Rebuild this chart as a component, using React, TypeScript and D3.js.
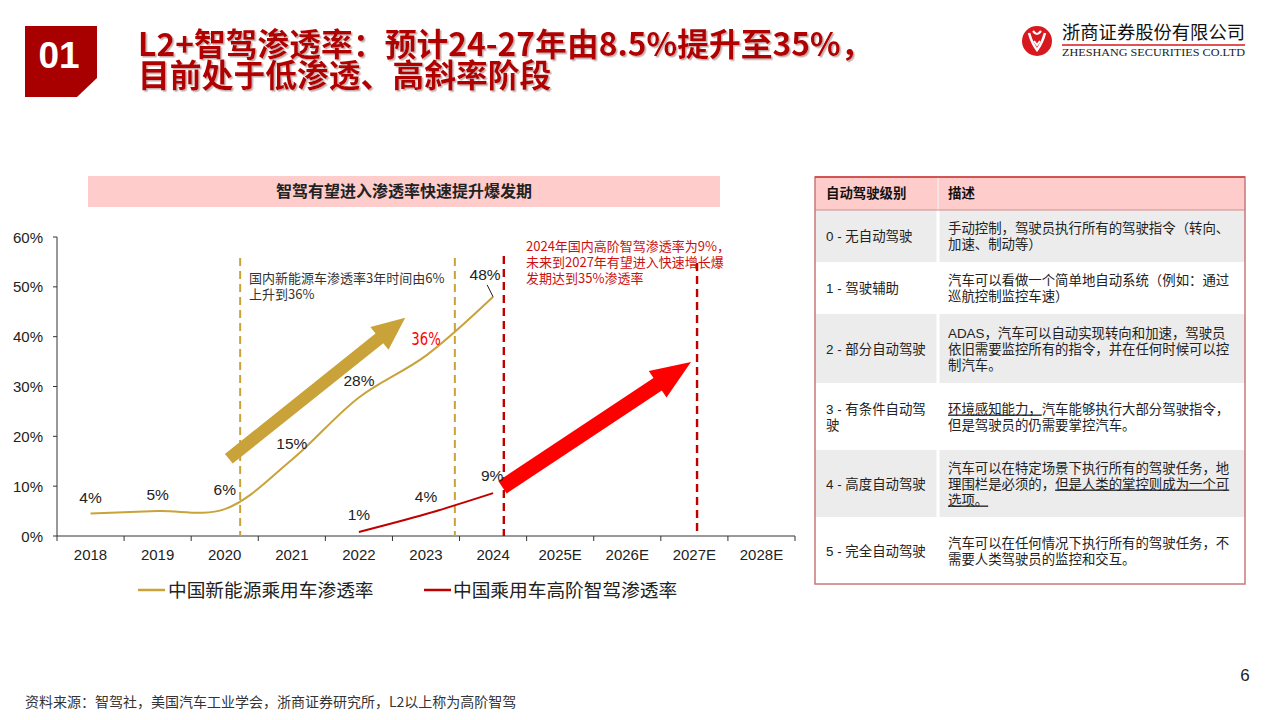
import React from 'react';
import * as d3 from 'd3';

// ---------- DATA ----------
const years = ["2018", "2019", "2020", "2021", "2022", "2023", "2024", "2025E", "2026E", "2027E", "2028E"];
const nevYears = ["2018", "2019", "2020", "2021", "2022", "2023", "2024"];
const nevRate = [4.5, 5.0, 5.4, 15.3, 27.8, 36.2, 48];
const nevLabels = ["4%", "5%", "6%", "15%", "28%", "36%", "48%"];
const adasYears = ["2022", "2023", "2024"];
const adasRate = [0.8, 4.4, 8.6];
const adasLabels = ["1%", "4%", "9%"];
const yTicks = [0, 10, 20, 30, 40, 50, 60];

const seriesNames = ["中国新能源乘用车渗透率", "中国乘用车高阶智驾渗透率"];
const chartTitle = "智驾有望进入渗透率快速提升爆发期";
const pageTitle = ["L2+智驾渗透率：预计24-27年由8.5%提升至35%，", "目前处于低渗透、高斜率阶段"];
const noteNev = ["国内新能源车渗透率3年时间由6%", "上升到36%"];
const noteAdas = ["2024年国内高阶智驾渗透率为9%，", "未来到2027年有望进入快速增长爆", "发期达到35%渗透率"];

// reference lines: [year, fraction inside band, top value, kind]
const refLines: [string, number, number, string][] = [
  ["2020", 0.73, 55.8, "gold"],
  ["2023", 0.93, 55.8, "gold"],
  ["2024", 0.66, 56.2, "red"],
  ["2027E", 0.54, 54.8, "red"],
];
// arrows: [fromYear, fromFrac, fromVal, toYear, toFrac, toVal]
const goldArrow: [string, number, number, string, number, number] = ["2020", 0.56, 15.5, "2023", 0.19, 43.8];
const redArrow: [string, number, number, string, number, number] = ["2024", 0.64, 9.8, "2027E", 0.45, 34.9];

const tableHeader = ["自动驾驶级别", "描述"];
const levelNames = [["0 - 无自动驾驶"], ["1 - 驾驶辅助"], ["2 - 部分自动驾驶"], ["3 - 有条件自动驾", "驶"], ["4 - 高度自动驾驶"], ["5 - 完全自动驾驶"]];
const levelDesc: { t: string; u?: [number, number] }[][] = [
  [{ t: "手动控制，驾驶员执行所有的驾驶指令（转向、" }, { t: "加速、制动等）" }],
  [{ t: "汽车可以看做一个简单地自动系统（例如：通过" }, { t: "巡航控制监控车速）" }],
  [{ t: "ADAS，汽车可以自动实现转向和加速，驾驶员" }, { t: "依旧需要监控所有的指令，并在任何时候可以控" }, { t: "制汽车。" }],
  [{ t: "环境感知能力，汽车能够执行大部分驾驶指令，", u: [0, 7] }, { t: "但是驾驶员的仍需要掌控汽车。" }],
  [{ t: "汽车可以在特定场景下执行所有的驾驶任务，地" }, { t: "理围栏是必须的，但是人类的掌控则成为一个可", u: [8, 21] }, { t: "选项。", u: [0, 3] }],
  [{ t: "汽车可以在任何情况下执行所有的驾驶任务，不" }, { t: "需要人类驾驶员的监控和交互。" }],
];
const rowBounds = [210, 262, 314, 383, 450, 517, 584];

const GOLD = "#c9a23a";
const DARKRED = "#c00000";
const SANS = "'Liberation Sans', Arial, 'Noto Sans CJK SC', sans-serif";
const CJK = "'Noto Sans CJK SC', 'Liberation Sans', sans-serif";

function arrowPath(x1: number, y1: number, x2: number, y2: number, shaft: number, headW: number, headL: number) {
  const dx = x2 - x1, dy = y2 - y1;
  const len = Math.sqrt(dx * dx + dy * dy);
  const ux = dx / len, uy = dy / len;
  const px = -uy, py = ux;
  const bx = x2 - ux * headL, by = y2 - uy * headL;
  const pts = [
    [x1 + px * shaft / 2, y1 + py * shaft / 2],
    [bx + px * shaft / 2, by + py * shaft / 2],
    [bx + px * headW / 2, by + py * headW / 2],
    [x2, y2],
    [bx - px * headW / 2, by - py * headW / 2],
    [bx - px * shaft / 2, by - py * shaft / 2],
    [x1 - px * shaft / 2, y1 - py * shaft / 2],
  ];
  return "M" + pts.map(p => p[0].toFixed(1) + "," + p[1].toFixed(1)).join("L") + "Z";
}

export default function App() {
  const x = d3.scaleBand<string>().domain(years).range([57, 795]);
  const bw = x.bandwidth();
  const cx = (yr: string) => (x(yr) as number) + bw / 2;
  const y = d3.scaleLinear().domain([0, 60]).range([536, 237]);

  const line = d3.line<[string, number]>()
    .x(d => cx(d[0]))
    .y(d => y(d[1]))
    .curve(d3.curveCatmullRom.alpha(0.5));
  const nevPath = line(nevYears.map((yr, i) => [yr, nevRate[i]] as [string, number])) || "";
  const adasPath = line(adasYears.map((yr, i) => [yr, adasRate[i]] as [string, number])) || "";

  const ax = (a: [string, number, number, string, number, number]) => [
    (x(a[0]) as number) + bw * a[1], y(a[2]), (x(a[3]) as number) + bw * a[4], y(a[5])];
  const ga = ax(goldArrow);
  const ra = ax(redArrow);

  const boundaries = years.map(yr => x(yr) as number).concat([795]);

  return (
    <svg width={1280} height={720} style={{ position: 'fixed', left: 0, top: 0, background: '#fff' }}
      xmlns="http://www.w3.org/2000/svg">
      <defs>
        <filter id="tshadow" x="-5%" y="-20%" width="110%" height="150%">
          <feDropShadow dx={1.5} dy={1.5} stdDeviation={0.4} floodColor="#b89a9a" floodOpacity={0.8} />
        </filter>
      </defs>
      <rect x={0} y={0} width={1280} height={720} fill="#fff" />

      {/* Header */}
      <polygon points="25,26 97,26 97,78 77,97 25,97" fill="#a80000" />
      <text x={59} y={68} textAnchor="middle" fontFamily={SANS} fontWeight="bold" fontSize={37} fill="#fff">01</text>
      <text fontFamily={CJK} fontWeight="bold" fontSize={31.8} fill="#b00000" filter="url(#tshadow)">
        {pageTitle.map((t, i) => <tspan key={i} x={138} y={56 + i * 31}>{t}</tspan>)}
      </text>

      {/* Logo */}
      <g transform="translate(1037,41)">
        <circle r={15} fill="#d7191f" />
        <path d="M-8,-8 C-6,-1 -4,4 0,9 C4,4 6,-1 8,-8" fill="none" stroke="#fff" strokeWidth={2.6} />
        <path d="M-4,-10 C-1,-6 1,-6 4,-10" fill="none" stroke="#fff" strokeWidth={2.2} />
        <path d="M-3,0 L0,4 L3,0" fill="none" stroke="#fff" strokeWidth={2} />
      </g>
      <text x={1062} y={39} fontFamily={CJK} fontSize={18} fill="#111" textLength={183} lengthAdjust="spacingAndGlyphs">浙商证券股份有限公司</text>
      <line x1={1062} x2={1245} y1={45} y2={45} stroke="#d7191f" strokeWidth={1.5} />
      <text x={1062} y={56} fontFamily="'Liberation Serif', 'Times New Roman', serif" fontSize={11} fill="#222" textLength={183} lengthAdjust="spacingAndGlyphs">ZHESHANG SECURITIES CO.LTD</text>

      {/* Chart title band */}
      <rect x={88} y={176} width={632} height={31} fill="#ffcccc" />
      <text x={404} y={197} textAnchor="middle" fontFamily={CJK} fontWeight="bold" fontSize={16} fill="#222">{chartTitle}</text>

      {/* Axes */}
      <line x1={57} x2={57} y1={237} y2={536} stroke="#333" strokeWidth={1} />
      {yTicks.map(t => (
        <g key={t}>
          <line x1={53} x2={57} y1={y(t)} y2={y(t)} stroke="#333" />
          <text x={43} y={y(t) + 5.5} textAnchor="end" fontFamily={SANS} fontSize={15} fill="#222">{t}%</text>
        </g>
      ))}
      <line x1={57} x2={795} y1={536} y2={536} stroke="#333" strokeWidth={1} />
      {boundaries.map((b, i) => (
        <line key={i} x1={b} x2={b} y1={536} y2={541} stroke="#333" />
      ))}
      {years.map(yr => (
        <text key={yr} x={cx(yr)} y={560} textAnchor="middle" fontFamily={SANS} fontSize={15} fill="#222">{yr}</text>
      ))}

      {/* Reference dashed lines */}
      {refLines.map(([yr, f, top, kind], i) => {
        const xx = (x(yr) as number) + bw * f;
        return <line key={i} x1={xx} x2={xx} y1={y(top)} y2={536}
          stroke={kind === "gold" ? GOLD : DARKRED} strokeWidth={kind === "gold" ? 2 : 2.4} strokeDasharray="8,5" />;
      })}

      {/* Arrows */}
      <path d={arrowPath(ga[0], ga[1], ga[2], ga[3], 12.5, 29, 33)} fill="#c9a23a" />
      <path d={arrowPath(ra[0], ra[1], ra[2], ra[3], 15, 32, 40)} fill="#ff0000" />

      {/* Lines */}
      <path d={nevPath} fill="none" stroke={GOLD} strokeWidth={2} />
      <path d={adasPath} fill="none" stroke={DARKRED} strokeWidth={2} />

      {/* Data labels */}
      {nevYears.map((yr, i) => {
        if (i === 5) {
          const lx = cx(yr), ly = y(nevRate[i]) - 11;
          return <text key={yr} transform={`translate(${lx},${ly}) scale(0.78,1)`} x={0} y={0} textAnchor="middle"
            fontFamily="'Liberation Sans Narrow', 'DejaVu Sans', sans-serif"
            fontSize={17} fill="#ff0000">{nevLabels[i]}</text>;
        }
        if (i === 6) {
          return <g key={yr}>
            <text x={cx(yr) - 8} y={y(nevRate[i]) - 17} textAnchor="middle" fontFamily={SANS} fontSize={15.5} fill="#222">{nevLabels[i]}</text>
            <line x1={cx(yr) - 6} y1={y(nevRate[i]) - 12} x2={cx(yr)} y2={y(nevRate[i])} stroke="#222" strokeWidth={1} />
          </g>;
        }
        const off = i === 2 ? 14 : 11;
        return <text key={yr} x={cx(yr)} y={y(nevRate[i]) - off} textAnchor="middle" fontFamily={SANS} fontSize={15.5} fill="#222">{nevLabels[i]}</text>;
      })}
      {adasYears.map((yr, i) => (
        <text key={yr} x={cx(yr) - (i === 2 ? 1 : 0)} y={y(adasRate[i]) - 12} textAnchor="middle" fontFamily={SANS} fontSize={15.5} fill="#222">{adasLabels[i]}</text>
      ))}

      {/* Notes */}
      <text fontFamily={CJK} fontSize={13} fill="#333">
        {noteNev.map((t, i) => <tspan key={i} x={249} y={283 + i * 16}>{t}</tspan>)}
      </text>
      <text fontFamily={CJK} fontSize={13} fill="#cc1010">
        {noteAdas.map((t, i) => <tspan key={i} x={526} y={251 + i * 16}>{t}</tspan>)}
      </text>

      {/* Legend */}
      <line x1={138} x2={165} y1={590} y2={590} stroke={GOLD} strokeWidth={2.5} />
      <text x={168} y={597} fontFamily={CJK} fontSize={18.7} fill="#222">{seriesNames[0]}</text>
      <line x1={424} x2={451} y1={590} y2={590} stroke={DARKRED} strokeWidth={2.5} />
      <text x={453} y={597} fontFamily={CJK} fontSize={18.7} fill="#222">{seriesNames[1]}</text>

      {/* Table */}
      <rect x={815} y={177} width={430} height={33} fill="#ffcccc" />
      {levelNames.map((_, i) => (
        <rect key={i} x={815} y={rowBounds[i]} width={430} height={rowBounds[i + 1] - rowBounds[i]} fill={i % 2 === 0 ? "#ececec" : "#ffffff"} />
      ))}
      <line x1={938} x2={938} y1={210} y2={584} stroke="#fff" strokeWidth={3} />
      <line x1={938} x2={938} y1={177} y2={210} stroke="#f6e4e4" strokeWidth={2} />
      <line x1={815} x2={1245} y1={210} y2={210} stroke="#d48a8a" strokeWidth={1} />
      <rect x={815} y={177} width={430} height={407} fill="none" stroke="#c97878" strokeWidth={1.5} />
      <line x1={815} x2={1245} y1={177} y2={177} stroke="#d04040" strokeWidth={1.5} />
      <text x={826} y={198} fontFamily={CJK} fontWeight="bold" fontSize={13.4} fill="#111">{tableHeader[0]}</text>
      <text x={948} y={198} fontFamily={CJK} fontWeight="bold" fontSize={13.4} fill="#111">{tableHeader[1]}</text>
      {levelNames.map((names, i) => {
        const mid = (rowBounds[i] + rowBounds[i + 1]) / 2;
        const desc = levelDesc[i];
        const startL = mid - (names.length - 1) * 8 + 5;
        const startD = mid - (desc.length - 1) * 8 + 5;
        return (
          <g key={i}>
            <text fontFamily={SANS} fontSize={13.4} fill="#222">
              {names.map((n, j) => <tspan key={j} x={826} y={startL + j * 16}>{n}</tspan>)}
            </text>
            <text fontFamily={SANS} fontSize={13.4} fill="#222">
              {desc.map((d, j) => {
                if (!d.u) return <tspan key={j} x={948} y={startD + j * 16}>{d.t}</tspan>;
                const a = d.t.slice(0, d.u[0]);
                const b = d.t.slice(d.u[0], d.u[1]);
                const c = d.t.slice(d.u[1]);
                return <tspan key={j} x={948} y={startD + j * 16}>
                  {a}<tspan textDecoration="underline">{b}</tspan>{c}
                </tspan>;
              })}
            </text>
          </g>
        );
      })}

      {/* Footer */}
      <text x={25} y={707} fontFamily={CJK} fontSize={14} fill="#333">资料来源：智驾社，美国汽车工业学会，浙商证券研究所，L2以上称为高阶智驾</text>
      <text x={1245} y={681} textAnchor="middle" fontFamily={SANS} fontSize={17} fill="#222">6</text>
    </svg>
  );
}
